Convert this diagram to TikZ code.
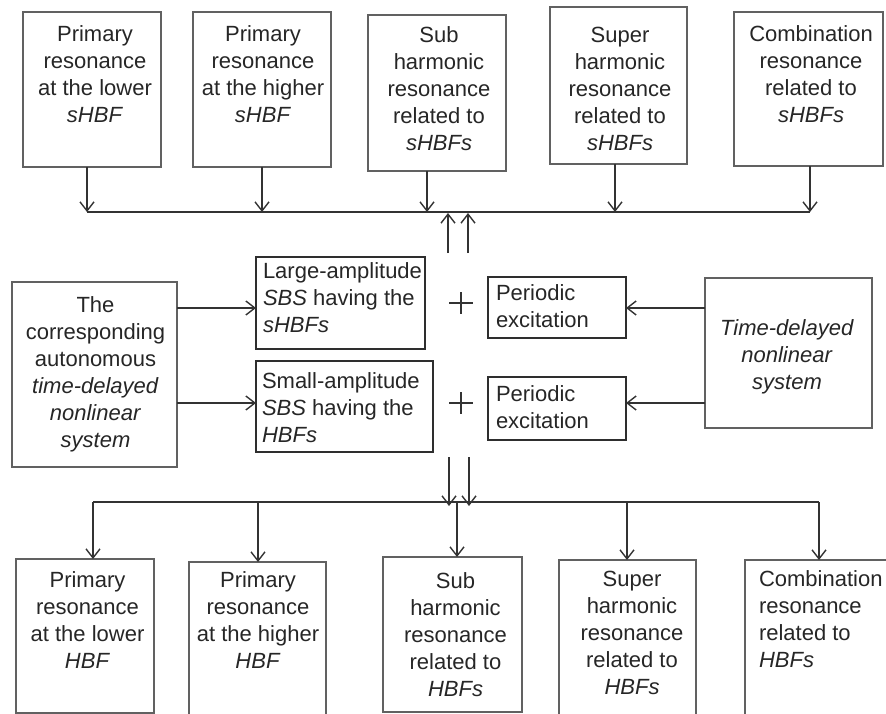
\documentclass[tikz,border=0pt]{standalone}
\usepackage{fontspec}
\setmainfont{Liberation Sans}
\usetikzlibrary{arrows.meta}

\begin{document}
\begin{tikzpicture}[x=1pt,y=-1pt,
  every node/.style={inner sep=0pt, outer sep=0pt},
  frame/.style={draw=black!62, line width=1.4pt},
  darkframe/.style={draw=black!82, line width=2pt},
  txt/.style={text=black!85, font=\fontsize{22}{27}\selectfont, align=center},
  ltxt/.style={txt, align=left},
  plussign/.style={minimum width=24pt, minimum height=22pt,
    path picture={\draw[line width=1.8pt, black!80]
      (path picture bounding box.west) -- (path picture bounding box.east)
      (path picture bounding box.north) -- (path picture bounding box.south);}},
  flow/.style={draw=black!80, line width=1.6pt},
  arr/.style={flow, -{Straight Barb[length=9pt,width=14pt,line width=1.4pt]}}
]
\useasboundingbox (0,0) rectangle (886,714);

% ---- upper row: resonances of the large-amplitude solutions
\node[frame, minimum width=138pt, minimum height=155pt] (T1) at (92,89.5) {};
\node[frame, minimum width=138pt, minimum height=155pt] (T2) at (262,89.5) {};
\node[frame, minimum width=138pt, minimum height=156pt] (T3) at (437,93) {};
\node[frame, minimum width=137pt, minimum height=157pt] (T4) at (618.5,85.5) {};
\node[frame, minimum width=149pt, minimum height=154pt] (T5) at (808.5,89) {};

\node[txt, anchor=north] (t1) at (95,26) {Primary\\resonance\\at the lower\\\textit{sHBF}};
\node[txt, anchor=north] (t2) at (263,26) {Primary\\resonance\\at the higher\\\textit{sHBF}};
\node[txt, anchor=north] (t3) at (439,27) {Sub\\harmonic\\resonance\\related to\\\textit{sHBFs}};
\node[txt, anchor=north] (t4) at (620,27) {Super\\harmonic\\resonance\\related to\\\textit{sHBFs}};
\node[txt, anchor=north] (t5) at (811,26) {Combination\\resonance\\related to\\\textit{sHBFs}};

% ---- middle: the two solution branches plus excitation
\node[frame, minimum width=165pt, minimum height=185pt] (L) at (94.5,374.5) {};
\node[txt, anchor=north] (tL) at (95.5,297) {The\\corresponding\\autonomous\\\textit{time-delayed}\\\textit{nonlinear}\\\textit{system}};

\node[darkframe, minimum width=169pt, minimum height=92pt] (LA) at (340.5,303) {};
\node[ltxt, anchor=north west] (tLA) at (263,263) {Large-amplitude\\\textit{SBS} having the\\\textit{sHBFs}};
\node[darkframe, minimum width=177pt, minimum height=91pt] (SA) at (344.5,406.5) {};
\node[ltxt, anchor=north west] (tSA) at (262,373) {Small-amplitude\\\textit{SBS} having the\\\textit{HBFs}};

\node[plussign] (p1) at (461,303) {};
\node[plussign] (p2) at (461,403) {};

\node[darkframe, minimum width=138pt, minimum height=61pt] (PE1) at (557,307.5) {};
\node[ltxt, anchor=north west] (tPE1) at (496,285) {Periodic\\excitation};
\node[darkframe, minimum width=138pt, minimum height=63pt] (PE2) at (557,408.5) {};
\node[ltxt, anchor=north west] (tPE2) at (496,386) {Periodic\\excitation};

\node[frame, minimum width=167pt, minimum height=150pt] (TD) at (788.5,353) {};
\node[txt, anchor=north] (tTD) at (787,320) {\textit{Time-delayed}\\\textit{nonlinear}\\\textit{system}};

% ---- lower row: resonances of the small-amplitude solutions
\node[frame, minimum width=138pt, minimum height=154pt] (B1) at (85,636) {};
\node[frame, minimum width=137pt, minimum height=158pt] (B2) at (257.5,641) {};
\node[frame, minimum width=139pt, minimum height=155pt] (B3) at (452.5,634.5) {};
\node[frame, minimum width=137pt, minimum height=160pt] (B4) at (627.5,640) {};
\node[frame, minimum width=155pt, minimum height=160pt] (B5) at (822.5,640) {};

\node[txt, anchor=north] (b1) at (87.5,572) {Primary\\resonance\\at the lower\\\textit{HBF}};
\node[txt, anchor=north] (b2) at (258,572) {Primary\\resonance\\at the higher\\\textit{HBF}};
\node[txt, anchor=north] (b3) at (455.5,573) {Sub\\harmonic\\resonance\\related to\\\textit{HBFs}};
\node[txt, anchor=north] (b4) at (632,571) {Super\\harmonic\\resonance\\related to\\\textit{HBFs}};
\node[ltxt, anchor=north west] (b5) at (759,571) {Combination\\resonance\\related to\\\textit{HBFs}};

% ---- upper collecting line
\coordinate (ua) at (87,212);
\coordinate (ub) at (262,212);
\coordinate (uc) at (427,212);
\coordinate (ud) at (615,212);
\coordinate (ue) at (810,212);
\draw[flow] (ua) -- (ue);
\foreach \n/\c in {T1/ua,T2/ub,T3/uc,T4/ud,T5/ue}
  \draw[arr] (\n.south -| \c) -- (\c);

\coordinate (up1) at (448,253);
\coordinate (up2) at (468,253);
\draw[arr] (up1) -- ([yshift=-1pt]up1 |- ua);
\draw[arr] (up2) -- ([yshift=-1pt]up2 |- ua);

% ---- inputs of the middle blocks
\draw[arr] (L.east |- LA.west) ++(0,5) coordinate (la0) -- (LA.west |- la0);
\draw[arr] (L.east |- SA.west) ++(0,-3.5) coordinate (sa0) -- (SA.west |- sa0);
\draw[arr] (TD.west |- PE1.east) ++(0,0.5) coordinate (pe0) -- (PE1.east |- pe0);
\draw[arr] (TD.west |- PE2.east) ++(0,-5.5) coordinate (pf0) -- (PE2.east |- pf0);

% ---- lower distributing line
\coordinate (dn1) at (449,457);
\coordinate (dn2) at (469,457);
\coordinate (la) at (93,502);
\coordinate (lb) at (258,502);
\coordinate (lc) at (457,502);
\coordinate (ld) at (627,502);
\coordinate (le) at (819,502);
\draw[arr] (dn1) -- ([yshift=-4pt]dn1 |- la);
\draw[arr] (dn2) -- ([yshift=-4pt]dn2 |- la);
\draw[flow] (la) -- (le);
\foreach \n/\c in {B1/la,B2/lb,B3/lc,B4/ld,B5/le}
  \draw[arr] (\c) -- (\c |- \n.north);
\end{tikzpicture}
\end{document}
